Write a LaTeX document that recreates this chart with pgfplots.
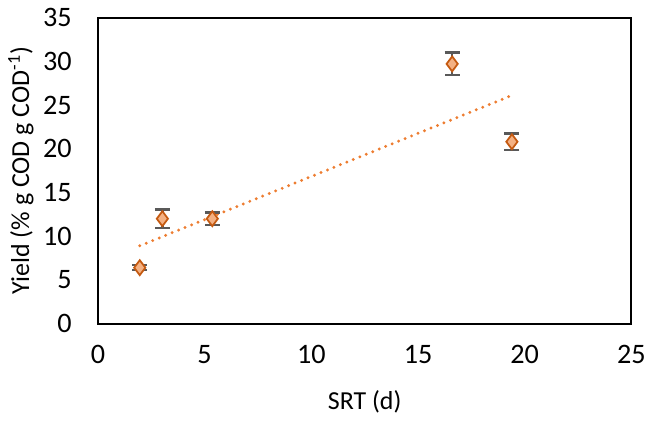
\documentclass[border=0pt]{standalone}
\usepackage{pgfplots}
\pgfplotsset{compat=1.18}
\usepackage{fontspec}
\setmainfont{Carlito}
\definecolor{mkfill}{HTML}{F4B183}
\definecolor{mkedge}{HTML}{C55A11}
\definecolor{trend}{HTML}{ED7D31}
\definecolor{errc}{HTML}{595959}

\begin{document}
\begin{tikzpicture}
\begin{axis}[
  width=214pt, height=122.8pt, scale only axis,
  xmin=0, xmax=25, ymin=0, ymax=35,
  xtick={0,5,...,25}, ytick={0,5,...,35},
  major tick length=0pt,
  axis line style={line width=0.8pt},
  tick label style={font=\fontsize{11.3}{13}\selectfont},
  label style={font=\fontsize{10.4}{12}\selectfont},
  /pgf/number format/assume math mode=true,
  xticklabel style={yshift=-5pt},
  yticklabel style={xshift=-7pt},
  xlabel={SRT (d)}, ylabel={Yield (\% g COD g COD\textsuperscript{-1})},
  xlabel style={yshift=-4pt}, ylabel style={yshift=-3pt},
  clip=false]
\addplot[trend, line width=1.3pt, line cap=round, dash pattern=on 0pt off 2.8pt]
  coordinates {(1.96,8.9) (19.4,26.1)};
\addplot[only marks, mark=diamond*, mark size=3pt,
  mark options={fill=mkfill, draw=mkedge, line width=0.7pt},
  error bars/.cd, y dir=both, y explicit,
  error bar style={errc, line width=0.9pt},
  error mark options={errc, rotate=90, mark size=3pt, line width=0.9pt}]
  coordinates {
    (1.96,6.4) +- (0,0.3)
    (3.02,12.0) +- (0,1.05)
    (5.36,12.0) +- (0,0.7)
    (16.6,29.7) +- (0,1.3)
    (19.4,20.8) +- (0,0.95)
  };
\end{axis}
\end{tikzpicture}
\end{document}
